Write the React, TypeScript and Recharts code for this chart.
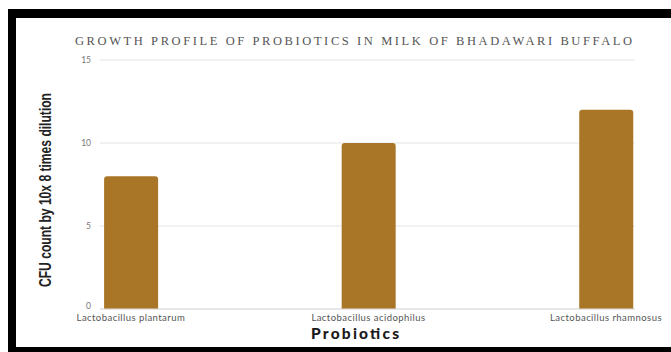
import React from "react";
import { BarChart, Bar, XAxis, YAxis, CartesianGrid } from "recharts";

const categories = [
  "Lactobacillus plantarum",
  "Lactobacillus acidophilus",
  "Lactobacillus rhamnosus",
];
const cfuValues = [8, 10, 12];
const yTicks = [0, 5, 10, 15];
const title = "GROWTH PROFILE OF PROBIOTICS IN MILK OF BHADAWARI BUFFALO";
const xTitle = "Probiotics";
const yTitle = "CFU count by 10x 8 times dilution";

const data = categories.map((name, i) => ({ idx: i, name, value: cfuValues[i] }));

const YTick = (props: any) => {
  const { x, y, payload } = props;
  const up = payload.value === 0 ? -3 : 0;
  return (
    <text
      x={x}
      y={y + up}
      dy="0.355em"
      textAnchor="end"
      fill="#777"
      fontSize={8.5}
      fontFamily="Lato"
    >
      {payload.value}
    </text>
  );
};

export default function App() {
  return (
    <div
      style={{
        position: "absolute",
        left: 0,
        top: 0,
        width: 671,
        height: 352,
        background: "#fff",
        overflow: "hidden",
      }}
    >
      <div
        style={{
          position: "absolute",
          left: 8,
          top: 9,
          width: 680,
          height: 343,
          borderTop: "9px solid #000",
          borderLeft: "8px solid #000",
          borderBottom: "5px solid #000",
          boxSizing: "border-box",
        }}
      />
      <div style={{ position: "absolute", left: 0, top: 0 }}>
        <BarChart
          width={671}
          height={352}
          data={data}
          margin={{ top: 60, right: 36, bottom: 13, left: 70 }}
        >
          <CartesianGrid vertical={false} stroke="#e4e4e4" strokeWidth={1} />
          <XAxis
            dataKey="idx"
            type="number"
            domain={[-0.13, 2.122]}
            ticks={[0, 1, 2]}
            tickFormatter={(v: number) => categories[v] ?? ""}
            height={30}
            tickLine={false}
            tickSize={3}
            tickMargin={2}
            axisLine={{ stroke: "#dcdcdc" }}
            tick={{ fill: "#555", fontSize: 9.5, fontFamily: "Lato", letterSpacing: 0.45 }}
            interval={0}
          />
          <YAxis
            domain={[0, 15]}
            ticks={yTicks}
            width={30}
            tickLine={false}
            axisLine={false}
            tickSize={7}
            tickMargin={2}
            tick={<YTick />}
          />
          <Bar
            dataKey="value"
            fill="#a87626"
            barSize={54}
            radius={[3, 3, 0, 0]}
            isAnimationActive={false}
          />
        </BarChart>
      </div>
      <svg
        width={671}
        height={352}
        style={{ position: "absolute", left: 0, top: 0, pointerEvents: "none" }}
      >
        <text
          x={75}
          y={45}
          textLength={557}
          lengthAdjust="spacing"
          fontFamily="Liberation Serif"
          fontSize={12.5}
          fill="#555"
        >
          {title}
        </text>
        <text
          x={311}
          y={339}
          textLength={88}
          lengthAdjust="spacing"
          fontFamily="Lato"
          fontWeight={900}
          fontSize={15.5}
          fill="#1a1a1a"
        >
          {xTitle}
        </text>
        <text
          transform="translate(51,287) rotate(-90)"
          x={0}
          y={0}
          textLength={194}
          lengthAdjust="spacingAndGlyphs"
          fontFamily="Liberation Sans"
          fontWeight={700}
          fontSize={17}
          fill="#222"
        >
          {yTitle}
        </text>
      </svg>
    </div>
  );
}
